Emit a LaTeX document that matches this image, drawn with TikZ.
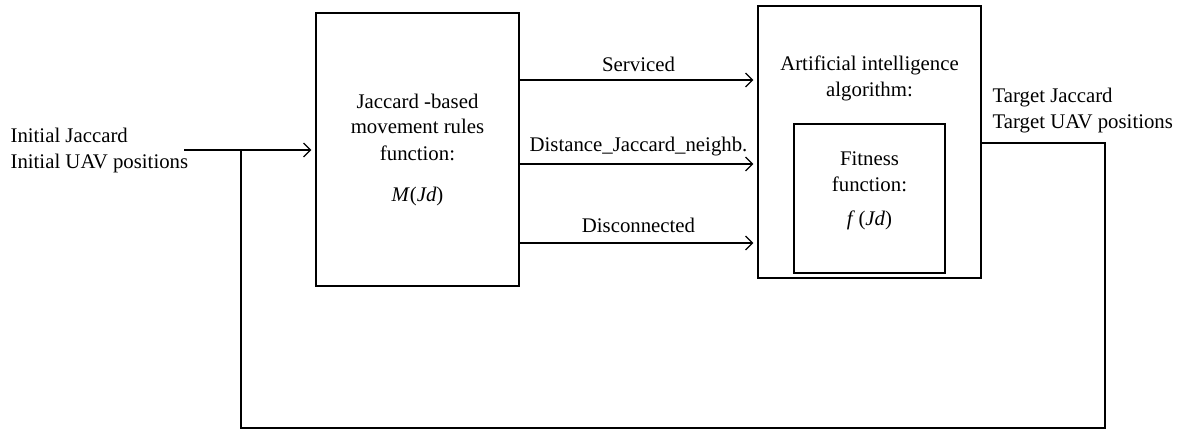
\documentclass[tikz,border=0pt]{standalone}
\usepackage{fontspec}
\setmainfont{Liberation Serif}
\usetikzlibrary{positioning,arrows.meta}

\begin{document}
\begin{tikzpicture}[x=0.5pt,y=-0.5pt,shorten >=2pt,line width=0.6pt,
    >={Straight Barb[length=3.5pt,width=7pt]},
    font=\fontsize{10.4pt}{13pt}\selectfont]
    \tikzstyle{block}=[draw,rectangle,inner sep=0pt,align=center]
    \tikzstyle{annot}=[align=center,inner sep=0pt]
    \tikzstyle{every edge}=[draw,->]

    \useasboundingbox (0,0) rectangle (1181,432);

    % Draw the movement rules block
    \node[block,minimum width=101.5pt,minimum height=136.5pt] (rules) at (417.5,149.5)
        {Jaccard -based\\movement rules\\function:\\[7.5pt]\textit{M}(\textit{Jd})};

    % Draw the AI block and the fitness block inside it
    \node[block,minimum width=111.5pt,minimum height=136pt] (ai) at (869.5,142) {};
    \node[annot] (aitext) at (869.5,78) {Artificial intelligence\\algorithm:};
    \node[block,minimum width=75.5pt,minimum height=74.5pt] (fit) at (869.5,198.5) {};
    \node[annot] (fittext) at (869.5,191) {Fitness\\function:\\[4pt]\textit{f}\,(\textit{Jd})};

    % Input and output annotations
    \node[annot,align=left,anchor=west] (init) at (10,151)
        {Initial Jaccard\\Initial UAV positions};
    \node[annot,align=left,anchor=west] (target) at (992,111)
        {Target Jaccard\\Target UAV positions};

    \coordinate (in) at (184,150);
    \coordinate (split) at (241,150);
    \coordinate (out) at (1105,143);
    \coordinate (corner) at (1105,428);

    % Connect the input with the movement rules block
    \path (in) edge (rules.west |- in);

    % Connect the movement rules block with the AI block
    \foreach \lbl / \y / \gap in {Serviced/80/0.5pt,Distance\_Jaccard\_neighb./164/0.5pt,Disconnected/243/1.5pt}
        \path (rules.east |- 0,\y) edge node[above=\gap] {\lbl} (ai.west |- 0,\y);

    % Feed the output back to the input
    \draw[shorten >=0pt] (ai.east |- out) -- (out) -- (corner) -| (split);

\end{tikzpicture}
\end{document}
